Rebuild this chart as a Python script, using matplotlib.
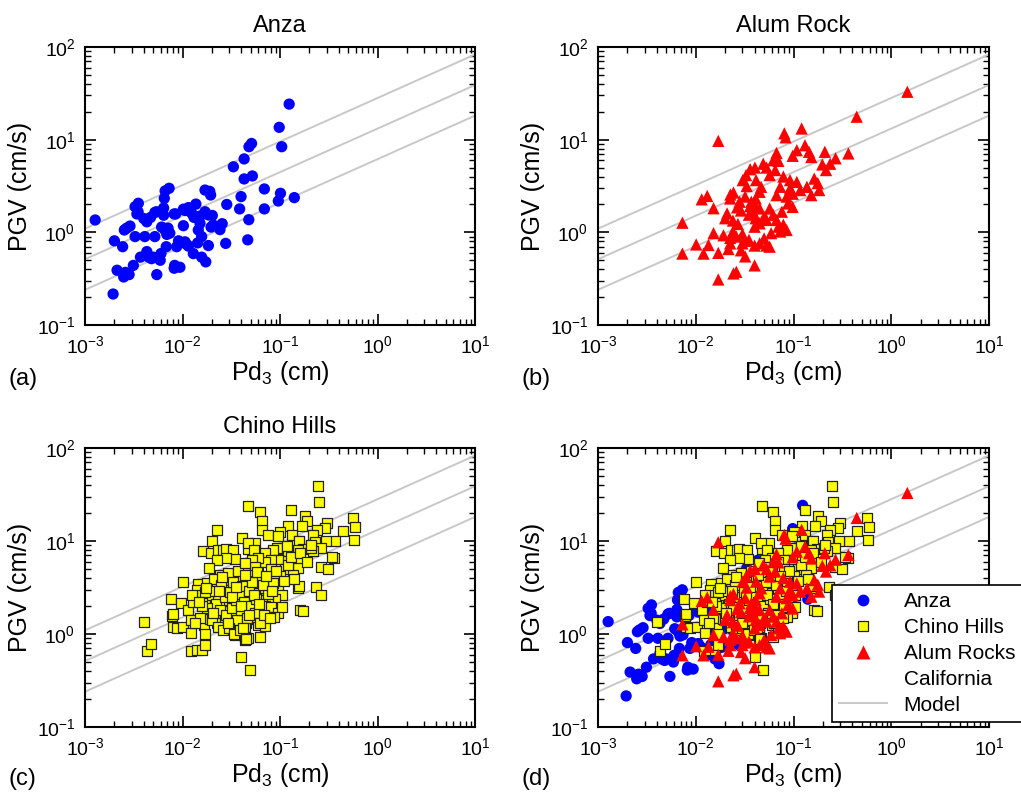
import numpy as np
import matplotlib
matplotlib.use('Agg')
import matplotlib.pyplot as plt
from matplotlib.lines import Line2D
from matplotlib.ticker import LogLocator, NullFormatter

plt.rcParams['font.family'] = ['Liberation Sans', 'DejaVu Sans']
plt.rcParams['mathtext.default'] = 'regular'

# --------------- California model: log PGV = a*log Pd + b (+/- s) ---------------
model_a = 0.47
model_b = 1.12
model_s = 0.33
model_pd = [1e-3, 1e1]

# --------------- Anza ---------------
anza_pd = [0.124, 0.098, 0.104, 0.051, 0.048, 0.0428, 0.0332, 0.0428, 0.052, 0.069,
           0.101, 0.096, 0.140, 0.069, 0.0398, 0.0385, 0.0478, 0.0466, 0.0284, 0.0277,
           0.0170, 0.0190, 0.0194, 0.00728, 0.00663, 0.0065, 0.00352, 0.00326, 0.0034, 0.0043,
           0.0052, 0.0064, 0.0082, 0.0102, 0.0115, 0.0137, 0.0170, 0.0202, 0.00127, 0.00253,
           0.00289, 0.0020, 0.00243, 0.00213, 0.00249, 0.00283, 0.00313, 0.00194, 0.00544, 0.0037,
           0.0043, 0.0048, 0.0059, 0.0083, 0.0094, 0.0082, 0.0068, 0.0087, 0.0106, 0.0115,
           0.0129, 0.0157, 0.0173, 0.0143, 0.0184, 0.0102, 0.0066, 0.0061, 0.0052, 0.0041,
           0.00326, 0.00267, 0.0069, 0.0074, 0.0054, 0.0064, 0.0085, 0.0106, 0.0124, 0.0151,
           0.0151, 0.0145, 0.0157, 0.0196, 0.0206, 0.0242, 0.0255, 0.0184, 0.0131, 0.0110,
           0.0091, 0.0045, 0.0060, 0.0047, 0.0040, 0.0035, 0.0071, 0.0050, 0.0026]
anza_pgv = [24.2, 13.6, 8.4, 9.1, 8.4, 6.2, 5.1, 3.77, 4.06, 2.94,
            2.64, 2.18, 2.37, 1.79, 2.43, 1.79, 1.37, 0.83, 2.0, 0.76,
            2.86, 2.77, 2.53, 2.99, 2.80, 2.33, 2.06, 1.89, 1.58, 1.30,
            1.64, 1.83, 1.58, 1.78, 1.85, 2.02, 1.67, 1.52, 1.36, 1.06,
            1.17, 0.81, 0.70, 0.39, 0.33, 0.35, 0.44, 0.216, 0.35, 0.54,
            0.62, 0.52, 0.50, 0.44, 0.42, 0.41, 0.70, 0.70, 0.79, 0.71,
            0.59, 0.54, 0.48, 0.77, 0.72, 1.18, 1.06, 1.14, 0.90, 0.90,
            0.90, 1.11, 0.95, 0.98, 1.67, 1.53, 1.58, 1.72, 1.61, 1.50,
            1.25, 1.06, 0.90, 1.14, 1.20, 1.07, 1.24, 1.54, 1.45, 0.74,
            0.81, 0.54, 0.59, 1.45, 1.41, 1.67, 1.11, 0.54, 0.37]

# --------------- Alum Rock ---------------
alum_pd = [1.46, 0.443, 0.0170, 0.0805, 0.083, 0.121, 0.364, 0.209, 0.269, 0.237,
           0.197, 0.215, 0.131, 0.144, 0.152, 0.108, 0.098, 0.067, 0.062, 0.070,
           0.053, 0.057, 0.049, 0.0403, 0.036, 0.0327, 0.0302, 0.0332, 0.0414, 0.0466,
           0.0787, 0.092, 0.108, 0.092, 0.073, 0.067, 0.085, 0.098, 0.163, 0.177,
           0.183, 0.152, 0.045, 0.041, 0.037, 0.032, 0.0243, 0.0225, 0.0281, 0.036,
           0.040, 0.045, 0.039, 0.035, 0.0265, 0.029, 0.0209, 0.0200, 0.0240, 0.027,
           0.024, 0.026, 0.030, 0.035, 0.045, 0.053, 0.062, 0.067, 0.0787, 0.085,
           0.073, 0.059, 0.050, 0.045, 0.053, 0.040, 0.030, 0.029, 0.032, 0.0225,
           0.0216, 0.0170, 0.0152, 0.0192, 0.0135, 0.012, 0.0101, 0.0073, 0.0073, 0.0115,
           0.0131, 0.0152, 0.0226, 0.0170, 0.0243, 0.026, 0.040, 0.032, 0.040, 0.098,
           0.094, 0.057, 0.065, 0.117, 0.137, 0.070, 0.088, 0.076, 0.050, 0.041,
           0.0225, 0.057]
alum_pgv = [32.9, 17.7, 9.7, 11.7, 10.6, 13.2, 7.1, 7.4, 6.3, 5.5,
            5.4, 4.7, 8.7, 7.4, 6.5, 7.7, 6.7, 7.2, 6.0, 5.9,
            5.0, 4.15, 5.5, 5.0, 4.8, 4.15, 3.66, 3.16, 3.66, 3.1,
            4.0, 3.66, 3.5, 2.98, 3.1, 2.52, 2.43, 2.61, 3.8, 3.4,
            2.86, 2.52, 2.74, 2.32, 2.14, 2.43, 2.69, 2.32, 2.14, 1.92,
            2.0, 1.81, 1.63, 1.55, 1.86, 1.72, 1.60, 1.42, 1.34, 1.23,
            1.02, 0.90, 0.96, 0.83, 1.25, 1.36, 1.54, 1.36, 1.21, 1.06,
            1.02, 0.98, 0.86, 0.76, 0.72, 0.72, 0.76, 0.64, 0.55, 0.76,
            0.66, 0.60, 0.98, 0.93, 0.73, 0.59, 0.74, 0.59, 1.27, 2.27,
            2.47, 1.82, 2.56, 0.31, 0.36, 0.375, 0.44, 0.81, 1.15, 1.88,
            2.87, 1.81, 4.7, 2.86, 3.1, 1.15, 2.05, 1.67, 1.47, 1.42,
            0.87, 0.70]

# --------------- Chino Hills ---------------
chino_pd = [0.00403, 0.0043, 0.0048, 0.0076, 0.0078, 0.0080, 0.0079, 0.0088, 0.0097, 0.0102,
            0.0115, 0.0123, 0.0122, 0.0101, 0.0129, 0.0143, 0.014, 0.0157, 0.017, 0.0169,
            0.0166, 0.017, 0.0122, 0.014, 0.0157, 0.017, 0.0161, 0.0196, 0.020, 0.0225,
            0.0230, 0.0262, 0.028, 0.0332, 0.0405, 0.0473, 0.0473, 0.0345, 0.0276, 0.0225,
            0.0188, 0.0241, 0.0285, 0.0332, 0.040, 0.045, 0.051, 0.049, 0.0388, 0.0315,
            0.0265, 0.0216, 0.0191, 0.0216, 0.0260, 0.030, 0.0373, 0.042, 0.049, 0.044,
            0.0388, 0.0315, 0.026, 0.0216, 0.0191, 0.0225, 0.0271, 0.033, 0.0388, 0.045,
            0.051, 0.0345, 0.044, 0.040, 0.049, 0.020, 0.0230,
            0.247, 0.253, 0.0624, 0.0647, 0.0647, 0.130, 0.180, 0.190, 0.301, 0.565,
            0.59, 0.575, 0.447, 0.366, 0.294, 0.288, 0.238, 0.167, 0.122, 0.101,
            0.0759, 0.096, 0.132, 0.155, 0.22, 0.226, 0.36, 0.34, 0.263, 0.312,
            0.263, 0.158, 0.173, 0.22, 0.151, 0.108, 0.094, 0.0855, 0.070, 0.0555,
            0.047, 0.054, 0.122, 0.151, 0.118, 0.096, 0.080, 0.070, 0.060, 0.051,
            0.044, 0.055, 0.092, 0.080, 0.060, 0.049, 0.112, 0.151, 0.135, 0.101,
            0.086, 0.070, 0.057, 0.047, 0.060, 0.070, 0.080, 0.096, 0.151, 0.158,
            0.232, 0.263, 0.104, 0.088, 0.076, 0.065, 0.052, 0.049, 0.060, 0.070,
            0.080, 0.096, 0.104, 0.162, 0.172, 0.070, 0.086, 0.060, 0.070, 0.051,
            0.044, 0.0624, 0.047, 0.044, 0.206, 0.118,
            0.018, 0.019, 0.021, 0.022, 0.024, 0.025, 0.027, 0.028, 0.029, 0.031,
            0.032, 0.033, 0.035, 0.036, 0.037, 0.038, 0.040, 0.041, 0.043, 0.044,
            0.046, 0.048, 0.050, 0.052, 0.055, 0.057, 0.018, 0.016, 0.015, 0.017,
            0.020, 0.023, 0.026, 0.030, 0.034, 0.039, 0.042, 0.045, 0.063, 0.068,
            0.075, 0.085, 0.09, 0.11, 0.12, 0.13, 0.14, 0.16, 0.19, 0.21,
            0.0125, 0.0135, 0.0148, 0.0175, 0.0205, 0.0235, 0.0255, 0.0295, 0.0325, 0.0355,
            0.0395, 0.0435, 0.0475, 0.0535, 0.0585, 0.0615, 0.0665, 0.072, 0.078, 0.083]
chino_pgv = [1.36, 0.66, 0.79, 2.37, 1.57, 1.66, 1.2, 1.16, 2.14, 1.2,
             1.82, 1.03, 1.43, 3.66, 2.2, 3.43, 3.0, 2.63, 2.24, 1.45,
             1.24, 1.0, 0.66, 0.67, 0.67, 0.77, 7.9, 7.4, 10.1, 13.0,
             8.1, 8.1, 8.3, 8.1, 10.8, 23.7, 8.3, 6.4, 6.5, 6.3,
             5.1, 4.3, 3.8, 3.9, 3.8, 5.4, 3.9, 3.24, 3.24, 3.0,
             3.0, 3.24, 2.73, 2.33, 2.14, 2.33, 1.97, 2.14, 2.07, 1.77,
             1.6, 1.66, 1.77, 1.66, 1.44, 1.3, 1.44, 1.3, 1.37, 1.3,
             1.44, 0.97, 0.93, 0.57, 0.41, 2.64, 2.64,
             39.5, 26.1, 20.4, 16.3, 13.2, 21.4, 18.8, 16.3, 15.6, 17.7,
             14.0, 10.3, 12.7, 9.9, 10.1, 13.8, 13.2, 14.6, 14.6, 12.4,
             11.7, 11.2, 11.5, 10.1, 11.7, 9.7, 6.55, 6.7, 5.2, 5.0,
             8.4, 9.9, 8.2, 7.8, 8.1, 8.2, 8.4, 8.1, 7.4, 9.5,
             9.6, 8.1, 7.8, 6.3, 6.1, 6.2, 6.3, 5.9, 6.5, 6.3,
             5.3, 5.3, 5.0, 5.0, 4.5, 4.3, 5.0, 5.1, 4.3, 4.2,
             3.8, 3.8, 3.7, 3.24, 2.73, 3.1, 3.0, 3.1, 3.1, 3.3,
             3.2, 2.6, 2.6, 2.4, 2.33, 2.33, 2.5, 2.07, 1.9, 2.0,
             1.97, 1.7, 1.97, 1.8, 1.78, 1.47, 1.53, 1.25, 1.21, 1.53,
             1.18, 0.94, 0.9, 0.86, 8.4, 8.9,
             3.5, 2.9, 3.9, 2.1, 1.8, 3.4, 2.5, 1.6, 4.5, 2.8,
             1.9, 3.6, 2.3, 1.4, 4.8, 2.7, 1.8, 3.3, 2.2, 5.8,
             1.5, 2.9, 2.0, 3.6, 1.7, 2.4, 1.9, 2.0, 1.5, 2.8,
             1.4, 1.2, 1.1, 1.15, 1.0, 1.1, 1.15, 0.88, 1.3, 1.6,
             2.7, 3.5, 4.8, 3.7, 5.5, 6.8, 3.9, 7.4, 6.0, 9.0,
             2.6, 1.3, 2.2, 3.1, 1.7, 2.9, 4.1, 1.3, 2.5, 3.2,
             2.0, 4.3, 1.6, 2.6, 4.6, 2.1, 3.4, 4.2, 1.5, 2.9]
# ----------------------------------------

line_col = '#c8c8c8'
anza_kw = dict(marker='o', s=66, color='#0000ff', edgecolors='none', zorder=3)
chino_kw = dict(marker='s', s=42, facecolor='#ffff00', edgecolors='#222222', linewidths=0.9, zorder=4)
alum_kw = dict(marker='^', s=78, color='#ff0000', edgecolors='none', zorder=5)


def model_lines(ax):
    x = np.array(model_pd)
    for off in (model_s, 0.0, -model_s):
        y = 10 ** (model_a * np.log10(x) + model_b + off)
        ax.plot(x, y, color=line_col, lw=1.4, zorder=2)


def style(ax, title=None):
    ax.set_xscale('log')
    ax.set_yscale('log')
    ax.set_xlim(1e-3, 1e1)
    ax.set_ylim(1e-1, 1e2)
    ax.xaxis.set_minor_locator(LogLocator(base=10, subs=np.arange(2, 10)))
    ax.yaxis.set_minor_locator(LogLocator(base=10, subs=np.arange(2, 10)))
    ax.xaxis.set_minor_formatter(NullFormatter())
    ax.yaxis.set_minor_formatter(NullFormatter())
    ax.tick_params(which='both', direction='in', top=True, right=True, labelsize=14)
    ax.tick_params(which='major', length=8, width=1.2, pad=7)
    ax.tick_params(which='minor', length=4.5, width=1.0)
    for sp in ax.spines.values():
        sp.set_linewidth(1.5)
    ax.set_xlabel('Pd$_3$ (cm)', fontsize=18, labelpad=2)
    ax.set_ylabel('PGV (cm/s)', fontsize=18, labelpad=3)
    if title:
        ax.set_title(title, fontsize=17, pad=11)


fig = plt.figure(figsize=(10.21, 7.97), dpi=100)
axa = fig.add_axes([0.0833, 0.5922, 0.382, 0.3488])
axb = fig.add_axes([0.5857, 0.5922, 0.383, 0.3488])
axc = fig.add_axes([0.0833, 0.0878, 0.382, 0.350])
axd = fig.add_axes([0.5857, 0.0878, 0.383, 0.350])

# (a) Anza
model_lines(axa)
axa.scatter(anza_pd, anza_pgv, **anza_kw)
style(axa, 'Anza')

# (b) Alum Rock
model_lines(axb)
axb.scatter(alum_pd, alum_pgv, **alum_kw)
style(axb, 'Alum Rock')

# (c) Chino Hills
model_lines(axc)
axc.scatter(chino_pd, chino_pgv, **chino_kw)
style(axc, 'Chino Hills')

# (d) all together
model_lines(axd)
axd.scatter(anza_pd, anza_pgv, **anza_kw)
axd.scatter(chino_pd, chino_pgv, **chino_kw)
axd.scatter(alum_pd, alum_pgv, **alum_kw)
style(axd)

handles = [
    Line2D([], [], ls='none', marker='o', ms=8.5, color='#0000ff', mec='none'),
    Line2D([], [], ls='none', marker='s', ms=7, mfc='#ffff00', mec='#222222', mew=0.9),
    Line2D([], [], ls='none', marker='^', ms=9.5, color='#ff0000', mec='none'),
    Line2D([], [], ls='none'),
    Line2D([], [], color=line_col, lw=1.4),
]
labels = ['Anza', 'Chino Hills', 'Alum Rocks', 'California', 'Model']
leg = axd.legend(handles, labels, loc='lower left', bbox_to_anchor=(0.598, 0.018),
                 fontsize=15, frameon=True, fancybox=False, edgecolor='black',
                 framealpha=1, borderpad=0.35, handlelength=2.3, handletextpad=0.8,
                 labelspacing=0.33, borderaxespad=0)
leg.get_frame().set_linewidth(1.2)
leg.set_zorder(10)

for lab, x, y in [('(a)', 0.008, 0.525), ('(b)', 0.511, 0.525),
                  ('(c)', 0.008, 0.023), ('(d)', 0.511, 0.023)]:
    fig.text(x, y, lab, fontsize=17, va='center', ha='left')

plt.savefig('out.png', dpi=100)
